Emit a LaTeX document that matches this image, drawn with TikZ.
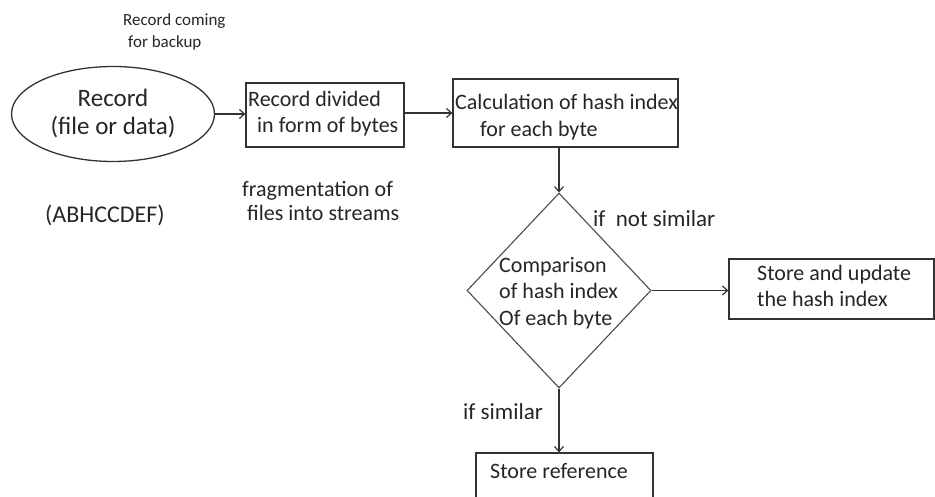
\documentclass[tikz,border=0pt]{standalone}
\usepackage{fontspec}
\setmainfont{Carlito}
\usetikzlibrary{shapes.geometric,arrows.meta}
\tikzset{
  shp/.style={draw=black!80, line width=1.3pt},
  box/.style={shp, rectangle, inner sep=0pt},
  txt/.style={inner sep=0pt, align=left, anchor=west, text=black!85},
  conn/.style={draw=black!80, line width=1.2pt, -{Straight Barb[length=5pt,width=9pt,line width=1.2pt]}},
}
\newcommand{\fs}[2]{\fontsize{#1}{#2}\selectfont}
\begin{document}
\begin{tikzpicture}[x=1pt,y=-1pt]
\useasboundingbox (0,0) rectangle (935,497);
\clip (0,0) rectangle (935,497);
\fill[white] (0,0) rectangle (935,497);

% shapes
\node[shp, ellipse, minimum width=203pt, minimum height=95pt, inner sep=0pt,
      align=center, text=black!85, font=\fs{25}{28}] (ell) at (113,114) {Record\\(file or data)};
\node[box, minimum width=158pt, minimum height=64pt] (box1) at (325,115) {};
\node[box, minimum width=225pt, minimum height=68pt] (box2) at (565.5,113) {};
\node[shp, diamond, minimum width=184pt, minimum height=195pt, inner sep=0pt,
      draw=black!70, line width=1.1pt] (dia) at (559,290.5) {};
\node[box, minimum width=205pt, minimum height=60pt] (box3) at (831.5,289) {};
\node[box, minimum width=177pt, minimum height=56pt] (box4) at (564.5,481) {};

% texts
\node[txt, font=\fs{17}{22}] (t0) at (123,32) {Record coming\\\hspace*{5pt}for backup};
\node[txt, font=\fs{22}{26}] (t1) at (248,114) {Record divided\\\hspace*{9pt}in form of bytes};
\node[txt, font=\fs{22}{27}] (t2) at (455,117.5) {Calculation of hash index\\\hspace*{25pt}for each byte};
\node[txt, font=\fs{22}{26.5}] (t3) at (499,293) {Comparison\\of hash index\\Of each byte};
\node[txt, font=\fs{22}{26}] (t4) at (757,286) {Store and update\\the hash index};
\node[txt, font=\fs{22}{26}] (t5) at (490,471) {Store reference};
\node[txt, font=\fs{24}{28}] (t6) at (45,215) {(ABHCCDEF)};
\node[txt, font=\fs{22}{24}] (t7) at (242,201) {fragmentation of\\\hspace*{5pt}files into streams};
\node[txt, font=\fs{23}{26}] (t8) at (593,219) {if\ \ not similar};
\node[txt, font=\fs{23}{26}] (t9) at (463,412) {if similar};

% connectors
\draw[conn] (ell.east) -- (ell.east -| box1.west);
\draw[conn] (box1.east |- box2.west) -- (box2.west);
\draw[conn] (dia.north |- box2.south) -- (dia.north);
\draw[conn] (dia.east) -- (dia.east -| box3.west);
\draw[conn] (dia.south) -- (dia.south |- box4.north);
\end{tikzpicture}
\end{document}
